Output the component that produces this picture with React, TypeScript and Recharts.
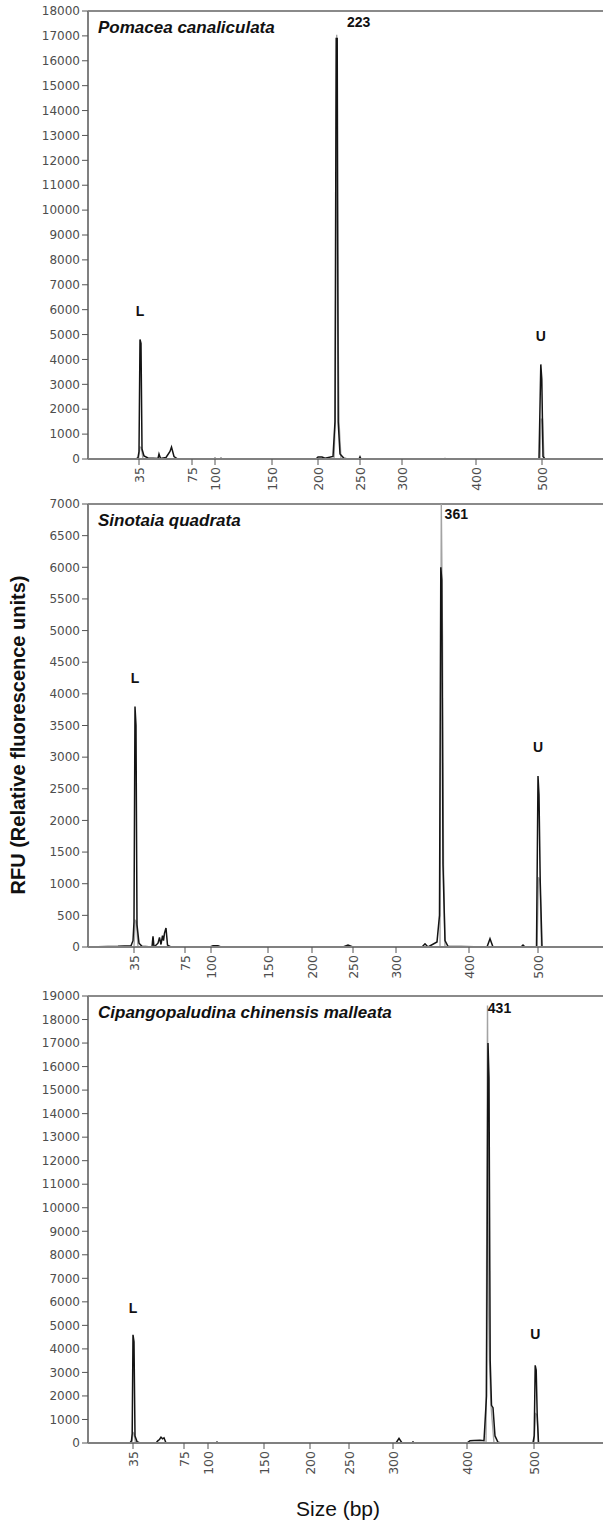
import React from 'react';
import { LineChart, Line, XAxis, YAxis, ReferenceLine, ReferenceDot } from 'recharts';

// fragment sizes of the ladder (bp) shown under every panel
const BP_LABELS = [35, 75, 100, 150, 200, 250, 300, 400, 500];

// migration time (s) where each ladder fragment sits, per run
const P1_LADDER = [24.1, 29.4, 31.7, 37.4, 42.0, 46.2, 50.4, 57.8, 64.4];
const P2_LADDER = [23.6, 28.7, 31.3, 37.0, 41.4, 45.5, 49.8, 57.1, 64.0];
const P3_LADDER = [23.5, 28.6, 31.0, 36.6, 41.2, 45.1, 49.5, 56.9, 63.6];

const P1_YTICKS = [0, 1000, 2000, 3000, 4000, 5000, 6000, 7000, 8000, 9000, 10000, 11000, 12000, 13000, 14000, 15000, 16000, 17000, 18000];
const P2_YTICKS = [0, 500, 1000, 1500, 2000, 2500, 3000, 3500, 4000, 4500, 5000, 5500, 6000, 6500, 7000];
const P3_YTICKS = [0, 1000, 2000, 3000, 4000, 5000, 6000, 7000, 8000, 9000, 10000, 11000, 12000, 13000, 14000, 15000, 16000, 17000, 18000, 19000];

// Pomacea canaliculata
const P1_BLACK_T = [19, 23.8, 24.0, 24.1, 24.2, 24.3, 24.4, 24.6, 25.0, 26.0, 26.1, 26.25, 26.8, 27.2, 27.35, 27.6, 27.9, 29.0, 31.6, 31.7, 31.8, 32.2, 32.3, 32.4, 41.8, 42.0, 42.4, 42.7, 43.5, 43.7, 43.82, 43.92, 44.02, 44.2, 44.6, 45.0, 46.1, 46.2, 46.3, 54.6, 54.7, 54.8, 64.1, 64.28, 64.38, 64.5, 64.7, 72.2];
const P1_BLACK_V = [0, 0, 60, 300, 4800, 4650, 400, 120, 40, 20, 200, 20, 60, 300, 480, 100, 20, 0, 0, 30, 0, 0, 30, 0, 0, 80, 80, 30, 100, 1500, 16900, 16900, 1500, 200, 30, 0, 0, 90, 0, 0, 20, 0, 0, 3800, 3200, 100, 0, 0];
const P1_GRAY_T = [19, 24.05, 24.2, 24.35, 24.5, 43.6, 43.72, 43.87, 43.97, 44.1, 44.3, 64.2, 64.32, 64.45, 64.6, 72.2];
const P1_GRAY_V = [0, 0, 480, 450, 0, 0, 1500, 17050, 6700, 1500, 0, 0, 1600, 1600, 0, 0];
const P1_PEAK_NAMES = ['L', '223', 'U'];
const P1_PEAK_T = [24.2, 43.87, 64.28];
const P1_PEAK_V = [4800, 16900, 3800];

// Sinotaia quadrata
const P2_BLACK_T = [19, 22.0, 23.3, 23.5, 23.6, 23.7, 23.8, 23.9, 24.1, 24.4, 25.4, 25.5, 25.6, 26.0, 26.15, 26.3, 26.45, 26.55, 26.65, 26.8, 26.95, 27.3, 31.2, 31.5, 32.0, 32.3, 44.5, 45.0, 45.5, 52.4, 52.7, 53.0, 53.9, 54.15, 54.28, 54.38, 54.5, 54.7, 55.0, 58.9, 59.2, 59.5, 62.3, 62.5, 62.7, 63.85, 64.0, 64.1, 64.22, 64.4, 72.2];
const P2_BLACK_V = [0, 10, 20, 100, 400, 3800, 3500, 350, 60, 10, 0, 170, 0, 60, 150, 40, 180, 100, 220, 300, 30, 0, 0, 20, 20, 0, 0, 30, 0, 0, 50, 0, 80, 500, 6000, 5800, 1300, 100, 10, 0, 130, 0, 0, 30, 0, 0, 2700, 2400, 1050, 0, 0];
const P2_GRAY_T = [19, 23.6, 23.72, 23.85, 24.0, 54.2, 54.33, 54.45, 54.55, 54.7, 63.9, 64.05, 64.2, 64.35, 72.2];
const P2_GRAY_V = [0, 0, 420, 400, 0, 0, 7000, 4900, 1300, 0, 0, 1100, 1050, 0, 0];
const P2_PEAK_NAMES = ['L', '361', 'U'];
const P2_PEAK_T = [23.7, 54.33, 64.0];
const P2_PEAK_V = [3800, 7000, 2700];

// Cipangopaludina chinensis malleata
const P3_BLACK_T = [19, 23.2, 23.35, 23.42, 23.5, 23.6, 23.7, 23.9, 24.2, 25.8, 26.0, 26.15, 26.3, 26.45, 26.6, 26.8, 31.8, 31.9, 32.0, 49.8, 50.1, 50.4, 51.4, 51.5, 51.6, 56.9, 57.2, 57.6, 58.2, 58.6, 58.85, 59.0, 59.1, 59.22, 59.35, 59.5, 59.7, 60.0, 60.3, 63.5, 63.62, 63.72, 63.82, 63.92, 64.05, 72.2];
const P3_BLACK_V = [0, 0, 100, 400, 4600, 4300, 300, 60, 0, 0, 100, 150, 250, 180, 220, 0, 0, 40, 0, 0, 200, 0, 0, 50, 0, 0, 100, 110, 120, 100, 2000, 17000, 15500, 3500, 1600, 1500, 300, 30, 0, 0, 300, 3300, 3100, 1200, 0, 0];
const P3_GRAY_T = [19, 23.38, 23.5, 23.62, 23.75, 58.8, 58.95, 59.05, 59.15, 59.3, 59.6, 63.6, 63.75, 63.9, 64.05, 72.2];
const P3_GRAY_V = [0, 0, 450, 400, 0, 0, 18600, 6000, 3500, 1600, 0, 0, 1250, 1200, 0, 0];
const P3_PEAK_NAMES = ['L', '431', 'U'];
const P3_PEAK_T = [23.5, 58.95, 63.72];
const P3_PEAK_V = [4600, 18600, 3300];

const zip = (t: number[], v: number[]) => t.map((x, i) => ({ t: x, v: v[i] }));

const TICK_FONT = 'DejaVu Sans';
const TICK_COLOR = '#4d4d4d';

const SizeTick = (props: any) => {
  const { x, y, index } = props;
  return (
    <text x={x} y={y} transform={`rotate(-90, ${x}, ${y})`} textAnchor="end" dy="0.36em"
      fontSize={12.5} fontFamily={TICK_FONT} fill={TICK_COLOR}>
      {BP_LABELS[index]}
    </text>
  );
};

const Panel = ({ top, plotH, yMax, yTicks, ladder, black, gray, peaks, offsets, title }: any) => {
  const chartH = 11 + plotH + 45;
  return (
    <div style={{ position: 'absolute', left: 0, top: top - 11, width: 620, height: chartH }}>
      <LineChart width={620} height={chartH} margin={{ top: 11, right: 0, bottom: 0, left: 0 }}>
        <XAxis type="number" dataKey="t" domain={[19, 72.2]} ticks={ladder} interval={0}
          tick={SizeTick} tickSize={6} tickMargin={2} height={45}
          axisLine={{ stroke: '#808080', strokeWidth: 2 }} tickLine={{ stroke: '#555' }} />
        <YAxis type="number" domain={[0, yMax]} ticks={yTicks} interval={0} width={88}
          tickSize={6} tickMargin={2} allowDataOverflow
          tick={{ fontSize: 12, fill: TICK_COLOR, fontFamily: TICK_FONT }}
          axisLine={{ stroke: '#808080', strokeWidth: 2 }} tickLine={{ stroke: '#555' }} />
        <ReferenceLine y={yMax} stroke="#8a8a8a" strokeWidth={2} />
        <Line data={gray} dataKey="v" type="linear" stroke="#a3a3a3" strokeWidth={1.4} dot={false} isAnimationActive={false} />
        <Line data={black} dataKey="v" type="linear" stroke="#141414" strokeWidth={1.5} dot={false} isAnimationActive={false} />
        {peaks.map((p: any, i: number) => (
          <ReferenceDot key={p.name} x={p.t} y={p.v} r={0} ifOverflow="visible"
            shape={(s: any) => (
              <text x={s.cx + offsets[i][0]} y={s.cy + offsets[i][1]} textAnchor="middle"
                fontSize={14} fontWeight="bold" fontFamily="Liberation Sans, Arial" fill="#111">
                {p.name}
              </text>
            )} />
        ))}
      </LineChart>
      <div style={{ position: 'absolute', left: 98, top: 19, fontFamily: 'Liberation Sans, Arial', fontSize: 17,
        fontWeight: 'bold', fontStyle: 'italic', lineHeight: 1, whiteSpace: 'nowrap', color: '#111' }}>
        {title}
      </div>
    </div>
  );
};

const peaksOf = (names: string[], t: number[], v: number[]) => names.map((n, i) => ({ name: n, t: t[i], v: v[i] }));

export default function App() {
  return (
    <div style={{ position: 'absolute', left: 0, top: 0, width: 603, height: 1524, overflow: 'hidden', background: '#fff' }}>
      <Panel top={11} plotH={448} yMax={18000} yTicks={P1_YTICKS} ladder={P1_LADDER}
        black={zip(P1_BLACK_T, P1_BLACK_V)} gray={zip(P1_GRAY_T, P1_GRAY_V)}
        peaks={peaksOf(P1_PEAK_NAMES, P1_PEAK_T, P1_PEAK_V)}
        offsets={[[0, -24], [22, -11], [0, -23]]} title="Pomacea canaliculata" />
      <Panel top={504} plotH={443} yMax={7000} yTicks={P2_YTICKS} ladder={P2_LADDER}
        black={zip(P2_BLACK_T, P2_BLACK_V)} gray={zip(P2_GRAY_T, P2_GRAY_V)}
        peaks={peaksOf(P2_PEAK_NAMES, P2_PEAK_T, P2_PEAK_V)}
        offsets={[[0, -24], [15, 15], [0, -24]]} title="Sinotaia quadrata" />
      <Panel top={996} plotH={447} yMax={19000} yTicks={P3_YTICKS} ladder={P3_LADDER}
        black={zip(P3_BLACK_T, P3_BLACK_V)} gray={zip(P3_GRAY_T, P3_GRAY_V)}
        peaks={peaksOf(P3_PEAK_NAMES, P3_PEAK_T, P3_PEAK_V)}
        offsets={[[0, -22], [12, 8], [0, -26]]} title="Cipangopaludina chinensis malleata" />
      <svg width={603} height={1524} style={{ position: 'absolute', left: 0, top: 0, pointerEvents: 'none' }}>
        <text x={18} y={735} transform="rotate(-90, 18, 735)" textAnchor="middle" dominantBaseline="central"
          fontFamily="Liberation Sans, Arial" fontWeight="bold" fontSize={20} fill="#111">
          RFU (Relative fluorescence units)
        </text>
        <text x={338} y={1508} textAnchor="middle" dominantBaseline="central"
          fontFamily="Liberation Sans, Arial" fontSize={21} fill="#111">
          Size (bp)
        </text>
      </svg>
    </div>
  );
}
